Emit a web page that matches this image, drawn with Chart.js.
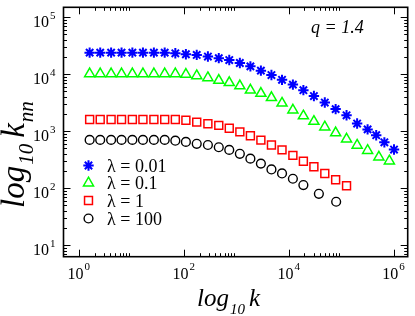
<!DOCTYPE html>
<html>
<head>
<meta charset="utf-8">
<script src="https://cdn.jsdelivr.net/npm/chart.js@4.4.1/dist/chart.umd.min.js"></script>
<style>
  html, body { margin: 0; padding: 0; background: #fff; }
  #c { display: block; }
</style>
</head>
<body>
<canvas id="c" width="415" height="316"></canvas>
<script>
// values (k on x, k_nn on y)
const kStar = [1.61, 2.56, 4.13, 6.53, 10.5, 16.7, 27.0, 43.4, 69.2, 110, 177, 289, 466, 738, 1175,
    1866, 2958, 4700, 7480, 12050, 19100, 30300, 48900, 78700, 127000, 202000, 320000, 467000, 668000, 1020000];
const knnStar = [24000, 24000, 24000, 24000, 24000, 24000, 24000, 24000, 23400, 22500, 21900, 20500, 19200, 17800, 15800,
    13800, 11600, 9700, 8000, 6600, 5270, 4160, 3200, 2450, 1910, 1370, 1080, 853, 640, 479];

const kTri = [1.61, 2.56, 4.13, 6.53, 10.5, 16.7, 27.0, 43.4, 69.2, 110, 177, 289, 466, 738, 1175,
    1866, 2958, 4700, 7480, 12050, 19100, 30300, 48900, 78700, 127000, 202000, 320000, 525000, 832000];
const knnTri = [10200, 10200, 10200, 10200, 10200, 10200, 10200, 10200, 10200, 10000, 9420, 8700, 7820, 7140, 6270,
    5270, 4630, 3900, 3110, 2360, 1860, 1490, 1190, 939, 730, 568, 460, 353, 301];

const kSq = [1.61, 2.56, 4.13, 6.53, 10.5, 16.7, 27.0, 43.4, 69.2, 110, 177, 289, 466, 738, 1175,
    1866, 2958, 4700, 7480, 12050, 19100, 30300, 48900, 78700, 127000];
const knnSq = [1610, 1610, 1610, 1610, 1610, 1610, 1610, 1610, 1610, 1560, 1450, 1360, 1270, 1130, 977,
    834, 700, 575, 472, 378, 298, 238, 182, 141, 111];

const kCirc = [1.61, 2.56, 4.13, 6.53, 10.5, 16.7, 27.0, 43.4, 69.2, 110, 177, 289, 466, 738, 1175,
    1866, 2958, 4700, 7480, 12050, 19100, 37700, 80500];
const knnCirc = [706, 706, 706, 706, 706, 706, 706, 706, 684, 652, 603, 575, 525, 472, 403,
    331, 271, 214, 182, 147, 114, 80, 58];

const seriesLabels = ['λ = 0.01', 'λ = 0.1', 'λ = 1', 'λ = 100'];

// tick marks: labelled decades and the 2..9 minors after each of them
const xMajor = [1, 100, 1e4, 1e6];
const yMajor = [1, 10, 100, 1e3, 1e4, 1e5];

const serif = '"Liberation Serif", "DejaVu Serif", serif';

function toPoints(xs, ys) {
    return xs.map((x, i) => ({ x: x, y: ys[i] }));
}

function logTicks(scale, majors) {
    const ticks = [];
    majors.forEach(m => {
        if (m >= scale.min && m <= scale.max) ticks.push({ value: m, major: true });
        for (let j = 2; j <= 9; j++) {
            const v = m * j;
            if (v >= scale.min && v <= scale.max) ticks.push({ value: v, major: false });
        }
    });
    scale.ticks = ticks;
}

// draws "10" with a raised exponent, anchored by its full width
function powerLabel(ctx, exp, x, y, align) {
    ctx.font = '16px ' + serif;
    const wBase = ctx.measureText('10').width;
    ctx.font = '11px ' + serif;
    const wExp = ctx.measureText(String(exp)).width;
    const total = wBase + 1 + wExp;
    let left = x;
    if (align === 'center') left = x - total / 2;
    if (align === 'right') left = x - total;
    ctx.textAlign = 'left';
    ctx.textBaseline = 'alphabetic';
    ctx.font = '16px ' + serif;
    ctx.fillText('10', left, y);
    ctx.font = '11px ' + serif;
    ctx.fillText(String(exp), left + wBase + 1, y - 8.5);
}

// pieces of text with subscripts, written one after the other
function writeParts(ctx, parts, x, y) {
    let cx = x;
    parts.forEach(p => {
        ctx.font = 'italic ' + p.size + 'px ' + serif;
        ctx.fillText(p.text, cx, y + (p.dy || 0));
        cx += ctx.measureText(p.text).width + (p.gap || 0);
    });
}

const frame = {
    id: 'frame',
    afterDatasetsDraw(chart) {
        const ctx = chart.ctx;
        const a = chart.chartArea;
        const xs = chart.scales.x;
        const ys = chart.scales.y;
        ctx.save();
        ctx.strokeStyle = '#000';
        ctx.fillStyle = '#000';

        // ticks pointing inwards on all four sides
        ctx.lineWidth = 1;
        xs.ticks.forEach(t => {
            const px = Math.round(xs.getPixelForValue(t.value)) + 0.5;
            const len = t.major ? 7 : 3.5;
            ctx.beginPath();
            ctx.moveTo(px, a.bottom); ctx.lineTo(px, a.bottom - len);
            ctx.moveTo(px, a.top); ctx.lineTo(px, a.top + len);
            ctx.stroke();
        });
        ys.ticks.forEach(t => {
            const py = Math.round(ys.getPixelForValue(t.value)) + 0.5;
            const len = t.major ? 7 : 3.5;
            ctx.beginPath();
            ctx.moveTo(a.left, py); ctx.lineTo(a.left + len, py);
            ctx.moveTo(a.right, py); ctx.lineTo(a.right - len, py);
            ctx.stroke();
        });

        ctx.lineWidth = 1.6;
        ctx.strokeRect(a.left, a.top, a.right - a.left, a.bottom - a.top);

        // tick labels
        xs.ticks.filter(t => t.major).forEach(t => {
            const px = xs.getPixelForValue(t.value);
            powerLabel(ctx, Math.round(Math.log10(t.value)), px, a.bottom + 22, 'center');
        });
        ys.ticks.filter(t => t.major).forEach(t => {
            const py = ys.getPixelForValue(t.value);
            powerLabel(ctx, Math.round(Math.log10(t.value)), a.left - 8, py + 10, 'right');
        });

        // axis titles
        ctx.textAlign = 'left';
        ctx.textBaseline = 'alphabetic';
        writeParts(ctx, [
            { text: 'log', size: 25, gap: 1 },
            { text: '10', size: 15, dy: 8, gap: 4 },
            { text: 'k', size: 25 }
        ], 197, 306);

        ctx.save();
        ctx.translate(24, 208);
        ctx.rotate(-Math.PI / 2);
        writeParts(ctx, [
            { text: 'log', size: 33, gap: 1 },
            { text: '10', size: 21, dy: 9, gap: 6 },
            { text: 'k', size: 33, gap: 1 },
            { text: 'nn', size: 21, dy: 9 }
        ], 0, 0);
        ctx.restore();

        // annotation
        ctx.font = 'italic 18px ' + serif;
        ctx.fillText('q = 1.4', 311, 33);

        // legend, built from the datasets
        const rows = [165.5, 183, 200.5, 218.5];
        chart.data.datasets.forEach((ds, i) => {
            ctx.fillStyle = ds.pointBackgroundColor;
            ctx.strokeStyle = ds.pointBorderColor;
            ctx.lineWidth = ds.pointBorderWidth;
            Chart.helpers.drawPoint(ctx, {
                pointStyle: ds.pointStyle,
                radius: ds.pointRadius,
                borderWidth: ds.pointBorderWidth,
                rotation: 0
            }, 88.5, rows[i]);
            ctx.fillStyle = '#000';
            ctx.font = '18px ' + serif;
            ctx.fillText(ds.label, 107, rows[i] + 6);
        });
        ctx.restore();
    }
};

new Chart(document.getElementById('c'), {
    type: 'scatter',
    data: {
        datasets: [{
            label: seriesLabels[0],
            data: toPoints(kStar, knnStar),
            pointStyle: 'star',
            pointRadius: 5.2,
            pointBorderWidth: 2,
            pointBorderColor: '#0000ff',
            pointBackgroundColor: '#0000ff'
        }, {
            label: seriesLabels[1],
            data: toPoints(kTri, knnTri),
            pointStyle: 'triangle',
            pointRadius: 5.8,
            pointBorderWidth: 1.5,
            pointBorderColor: '#00ff00',
            pointBackgroundColor: 'rgba(0,0,0,0)'
        }, {
            label: seriesLabels[2],
            data: toPoints(kSq, knnSq),
            pointStyle: 'rect',
            pointRadius: 5.6,
            pointBorderWidth: 1.5,
            pointBorderColor: '#ff0000',
            pointBackgroundColor: 'rgba(0,0,0,0)'
        }, {
            label: seriesLabels[3],
            data: toPoints(kCirc, knnCirc),
            pointStyle: 'circle',
            pointRadius: 4.4,
            pointBorderWidth: 1.4,
            pointBorderColor: '#000000',
            pointBackgroundColor: 'rgba(0,0,0,0)'
        }]
    },
    options: {
        responsive: false,
        animation: false,
        devicePixelRatio: 1,
        layout: { padding: { left: 63.5, top: 2, right: 3, bottom: 59.3 } },
        plugins: {
            legend: { display: false },
            tooltip: { enabled: false }
        },
        scales: {
            x: {
                type: 'logarithmic',
                min: 0.511,
                max: 1.86e6,
                grid: { display: false, drawTicks: false },
                border: { display: false },
                ticks: { display: false },
                afterBuildTicks: s => logTicks(s, xMajor)
            },
            y: {
                type: 'logarithmic',
                min: 6.3,
                max: 150000,
                grid: { display: false, drawTicks: false },
                border: { display: false },
                ticks: { display: false },
                afterBuildTicks: s => logTicks(s, yMajor)
            }
        }
    },
    plugins: [frame]
});
</script>
</body>
</html>
